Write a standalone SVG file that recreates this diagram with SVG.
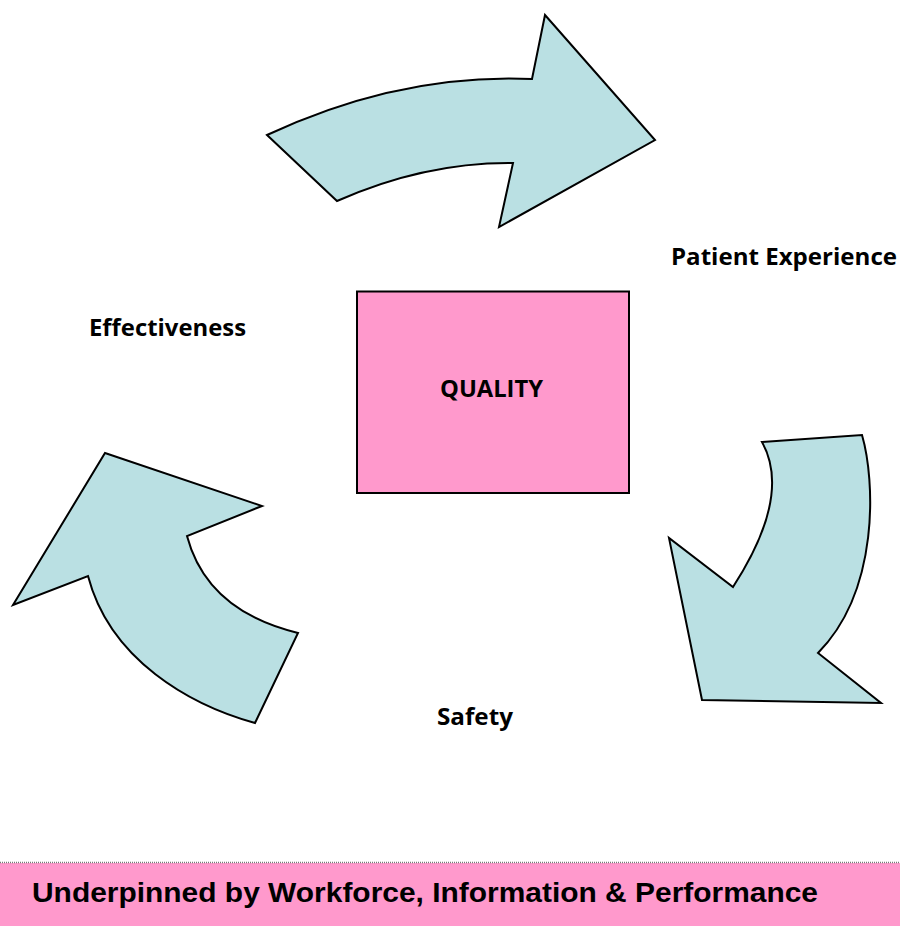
<svg xmlns="http://www.w3.org/2000/svg" width="900" height="926" viewBox="0 0 900 926">
  <style>
    .arrow { fill: #bae0e3; stroke: #000; stroke-width: 2; stroke-linejoin: miter; }
    .label { font-family: "Open Sans", Lato, "Liberation Sans", sans-serif; font-weight: bold; font-size: 23px; fill: #000; }
    .box { fill: #ff99cc; stroke: #000; stroke-width: 2; }
    .banner-text { font-family: "Liberation Sans", Arial, sans-serif; font-weight: bold; font-size: 28px; fill: #000; }
  </style>
  <rect width="900" height="926" fill="#fff"/>

  <!-- cycle arrows -->
  <g id="connectors">
    <!-- top arrow: Effectiveness -> Patient Experience -->
    <path id="arrow-top" class="arrow" d="M267,135 Q400,73 532,79 L545,15 L655,140 L499,227 L513,163 Q425,162 337,201 Z"/>
    <!-- right arrow: Patient Experience -> Safety -->
    <path id="arrow-right" class="arrow" d="M762,442 L862,435 C875,480 880,590 818,653 L881,703 L702,700 L669,538 L733,587 Q792,496 762,442 Z"/>
    <!-- left arrow: Safety -> Effectiveness -->
    <path id="arrow-left" class="arrow" d="M105,453 L262,506 L187,536 Q207,611 298,633 L255,723 C190,705 110,660 88,576 L13,605 Z"/>
  </g>

  <!-- central node -->
  <g id="quality">
    <rect class="box" x="357" y="291.5" width="272" height="201.5"/>
    <text class="label" x="440" y="397" textLength="103" lengthAdjust="spacingAndGlyphs">QUALITY</text>
  </g>

  <g id="patient-experience">
    <text class="label" x="671" y="265" textLength="226" lengthAdjust="spacingAndGlyphs">Patient Experience</text>
  </g>

  <g id="effectiveness">
    <text class="label" x="89" y="335.5" textLength="157" lengthAdjust="spacingAndGlyphs">Effectiveness</text>
  </g>

  <g id="safety">
    <text class="label" x="437" y="725" textLength="76" lengthAdjust="spacingAndGlyphs">Safety</text>
  </g>

  <!-- footer banner -->
  <g id="banner">
    <rect x="0" y="863" width="900" height="63" fill="#ff99cc"/>
    <line x1="0" y1="862.5" x2="900" y2="862.5" stroke="#777" stroke-width="1.5" stroke-dasharray="1 1"/>
    <text class="banner-text" x="32" y="901.5" textLength="786" lengthAdjust="spacingAndGlyphs">Underpinned by Workforce, Information &amp; Performance</text>
  </g>
</svg>
